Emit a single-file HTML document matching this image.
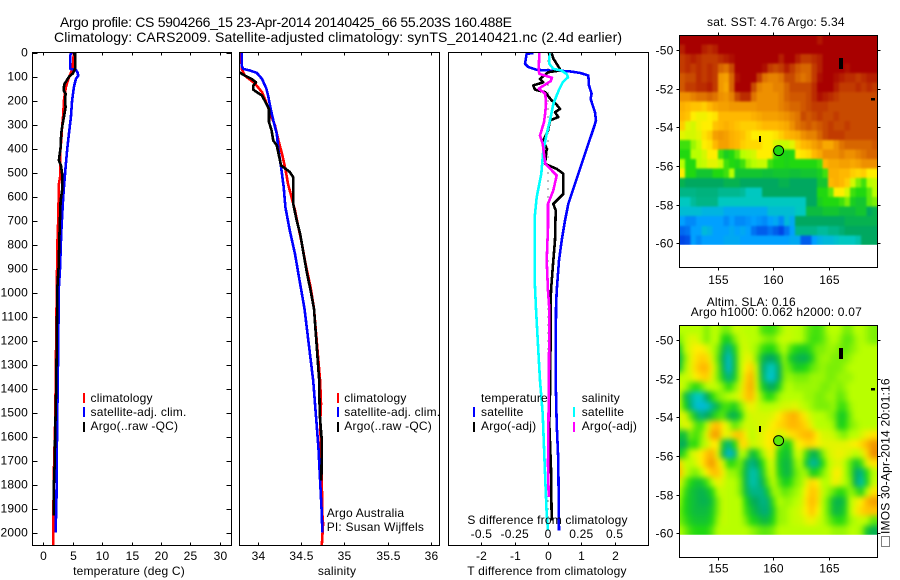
<!DOCTYPE html>
<html lang="en">
<head>
<meta charset="utf-8">
<title>Argo profile chart</title>
<style>
html,body{margin:0;padding:0;background:#fff;width:900px;height:580px;overflow:hidden}
svg{display:block}
text{font-family:"Liberation Sans",sans-serif;font-size:12px;fill:#000;letter-spacing:0.2px}
.ttl{font-size:14px;letter-spacing:0}
.mk{shape-rendering:crispEdges}
</style>
</head>
<body>
<svg id="chart" xmlns="http://www.w3.org/2000/svg" width="900" height="580" viewBox="0 0 900 580">
  <defs>
    <filter id="blurSst" x="-5%" y="-5%" width="110%" height="110%" color-interpolation-filters="sRGB"><feGaussianBlur stdDeviation="1"/></filter>
    <filter id="blurSla" x="-5%" y="-5%" width="110%" height="110%" color-interpolation-filters="sRGB"><feGaussianBlur stdDeviation="3"/></filter>
    <clipPath id="clipSst"><rect x="679.5" y="35.5" width="198" height="209.3"/></clipPath>
    <clipPath id="clipSla"><rect x="679.5" y="325.5" width="198" height="209.3"/></clipPath>
  </defs>
  <rect x="0" y="0" width="900" height="580" fill="#fff"/>
  <text class="ttl" x="60" y="27" textLength="452" lengthAdjust="spacing">Argo profile: CS 5904266_15 23-Apr-2014 20140425_66 55.203S 160.488E</text>
  <text class="ttl" x="54" y="42" textLength="568" lengthAdjust="spacing">Climatology: CARS2009. Satellite-adjusted climatology: synTS_20140421.nc (2.4d earlier)</text>

  <g id="p1marks"></g>
  <g id="p2marks"></g>
  <g id="p3marks"></g>
  <g clip-path="url(#clipSst)"><g id="m1cells" filter="url(#blurSst)"></g></g>
  <g clip-path="url(#clipSla)"><g id="m2cells" filter="url(#blurSla)"></g></g>
  <g id="m1over"></g>
  <g id="m2over"></g>
  <g id="axes"></g>

  <g>
    <rect class="mk" x="83" y="393" width="2" height="10" fill="#f00"/>
    <text x="90.5" y="402">climatology</text>
    <rect class="mk" x="83" y="407" width="2" height="10" fill="#00f"/>
    <text x="90.5" y="416">satellite-adj. clim.</text>
    <rect class="mk" x="83" y="422" width="2" height="10" fill="#000"/>
    <text x="90.5" y="430">Argo(..raw -QC)</text>
  </g>
  <g>
    <rect class="mk" x="337" y="393" width="2" height="10" fill="#f00"/>
    <text x="344.3" y="402">climatology</text>
    <rect class="mk" x="337" y="407" width="2" height="10" fill="#00f"/>
    <text x="344.3" y="416">satellite-adj. clim.</text>
    <rect class="mk" x="337" y="422" width="2" height="10" fill="#000"/>
    <text x="344.3" y="430">Argo(..raw -QC)</text>
    <text x="326.7" y="517">Argo Australia</text>
    <text x="326.7" y="531">PI: Susan Wijffels</text>
  </g>
  <g>
    <text x="481" y="402">temperature</text>
    <text x="581.7" y="402">salinity</text>
    <rect class="mk" x="473" y="407" width="2" height="10" fill="#00f"/>
    <text x="481" y="416">satellite</text>
    <rect class="mk" x="473" y="422" width="2" height="10" fill="#000"/>
    <text x="481" y="430">Argo(-adj)</text>
    <rect class="mk" x="573" y="407" width="2" height="10" fill="#0ff"/>
    <text x="581.7" y="416">satellite</text>
    <rect class="mk" x="573" y="422" width="2" height="10" fill="#f0f"/>
    <text x="581.7" y="430">Argo(-adj)</text>
  </g>

  <text x="129" y="575" text-anchor="middle">temperature (deg C)</text>
  <text x="337" y="575" text-anchor="middle">salinity</text>
  <text x="547.5" y="524" text-anchor="middle">S difference from climatology</text>
  <text x="547" y="575" text-anchor="middle">T difference from climatology</text>

  <text x="707" y="26">sat. SST: 4.76 Argo: 5.34</text>
  <text x="706.7" y="306">Altim. SLA: 0.16</text>
  <text x="690.7" y="316">Argo h1000: 0.062 h2000: 0.07</text>

  <rect x="881.5" y="536.5" width="8" height="10" fill="none" stroke="#000" stroke-dasharray="1 1" shape-rendering="crispEdges"/>
  <text transform="translate(889.5,534) rotate(-90)">IMOS 30-Apr-2014 20:01:16</text>
</svg>

<script>
// ---------- axis tick values ----------
const depthTicks = [0,100,200,300,400,500,600,700,800,900,1000,1100,1200,1300,1400,1500,1600,1700,1800,1900,2000];
const tempTicks = [0,5,10,15,20,25,30];
const salTicks = [34,34.5,35,35.5,36];
const salTickLabels = ['34','34.5','35','35.5','36'];
const tDiffTicks = [-2,-1,0,1,2];
const sDiffTicks = [-0.5,-0.25,0,0.25,0.5];
const sDiffTickLabels = ['-0.5','-0.25','0','0.25','0.5'];
const lonTicks = [155,160,165];
const latTicks = [-50,-52,-54,-56,-58,-60];

// ---------- temperature panel ----------
const tempClimDepth = [0,62,88,110,144,200,255,311,367,422,510,547,617,728,742,894,977,1400,1500,1600,1750,1950,2054];
const tempClimValue = [5.2,5.0,4.65,4.25,3.85,3.5,3.4,3.2,3.05,2.85,2.9,2.65,2.6,2.5,2.45,2.35,2.3,2.1,2.05,1.95,1.8,1.7,1.7];
const tempSatDepth = [0,11,68,73,82,96,110,144,200,269,339,408,478,547,617,686,755,894,977,1400,1550,1850,2000];
const tempSatValue = [4.8,4.6,4.55,5.55,5.8,5.95,5.55,5.2,4.9,4.7,4.35,4.05,3.8,3.55,3.35,3.2,3.05,2.85,2.65,2.45,2.35,2.25,2.1];
const tempArgoDepth = [0,68,88,100,116,133,158,172,200,228,262,311,339,394,450,470,505,575,617,755,894,977,1400,1600,1700,1800,1930];
const tempArgoValue = [5.4,5.4,5.0,4.4,4.0,3.55,3.45,3.8,3.7,3.8,3.55,3.2,3.05,2.95,2.65,3.0,3.2,3.2,2.95,2.75,2.6,2.4,2.2,2.0,1.95,1.8,1.8];

// ---------- salinity panel ----------
const salClimDepth = [0,68,96,130,165,200,249,304,367,422,485,547,603,658,728,797,894,978,1068,1367,1464,1547,1644,1783,1922,1964,2054];
const salClimValue = [33.81,33.815,33.85,33.97,34.05,34.09,34.14,34.2,34.24,34.28,34.32,34.35,34.39,34.43,34.47,34.51,34.56,34.61,34.65,34.72,34.73,34.72,34.73,34.74,34.745,34.755,34.74];
const salSatDepth = [0,54,68,75,85,110,151,179,235,283,339,408,478,561,644,742,839,922,1068,1367,1506,1644,1783,1922,2000];
const salSatValue = [33.815,33.815,33.83,33.91,33.99,34.05,34.1,34.12,34.15,34.18,34.22,34.24,34.27,34.3,34.32,34.37,34.43,34.47,34.54,34.64,34.67,34.7,34.72,34.74,34.745];
const salArgoDepth = [83,96,110,124,137,155,168,179,207,235,290,325,367,387,422,471,498,519,631,700,756,839,922,992,1068,1367,1506,1617,1783];
const salArgoValue = [33.79,33.85,33.93,33.98,33.95,33.95,34.0,34.05,34.09,34.13,34.13,34.16,34.18,34.22,34.24,34.27,34.37,34.41,34.41,34.45,34.49,34.53,34.57,34.61,34.65,34.71,34.715,34.74,34.735];

// ---------- difference panel ----------
const tDiffSatDepth = [3,5,47,61,72,75,78,85,96,137,172,193,249,283,311,381,464,547,631,700,783,867,992,1068,1367,1547,1700,1992];
const tDiffSatValue = [-0.44,-0.64,-0.69,-0.59,-0.34,0.01,0.61,0.96,1.21,1.23,1.31,1.28,1.41,1.44,1.38,1.21,1.01,0.81,0.61,0.51,0.41,0.33,0.26,0.24,0.23,0.26,0.31,0.33];
const tDiffArgoDepth = [3,25,69,75,82,110,124,137,155,165,200,214,235,249,269,283,325,367,401,464,485,505,589,631,658,783,867,992,1068,1367,1547,1735,1950];
const tDiffArgoValue = [0.11,0.16,0.36,0.36,0.01,-0.24,-0.14,-0.44,-0.39,-0.09,0.11,0.24,0.36,0.21,0.31,0.06,0,-0.14,-0.04,-0.09,0.26,0.46,0.46,0.16,0.23,0.21,0.16,0.09,0.08,0.07,0.04,0.09,0.11];
const sDiffSatDepth = [3,47,68,75,89,103,124,158,214,269,339,408,505,603,686,825,950,1068,1367,1506,1644,1783,1922,1992];
const sDiffSatValue = [0.01,0.01,0.04,0.1,0.14,0.15,0.11,0.08,0.04,0.02,-0.01,-0.035,-0.05,-0.085,-0.1,-0.1,-0.1,-0.09,-0.06,-0.04,-0.03,-0.02,-0.01,0];
const sDiffArgoDepth = [3,75,89,105,119,151,172,214,249,290,346,381,464,512,575,631,728,867,992,1068,1367,1714,1853];
const sDiffArgoValue = [-0.065,-0.07,-0.065,0.03,0.02,-0.07,-0.02,-0.015,-0.02,-0.03,-0.06,-0.04,-0.02,0.065,0.04,0,0,-0.01,0,0.01,0.007,0,0.005];
const zeroLineDepth = [0,1992];

// ---------- map values (colour-scale level per cell, north to south) ----------
const sstRows = [
[10,10,10,10,10,10,10,10,10,10,10,10,10,10,10,10,10,10,10,10,10,10,10,10,10,9.7,10,10,10,10,10,10,10,10,10,10],
[9.6,10,10,10,9.6,9.4,9.6,10,10,10,10,10,10,10,10,10,10,10,10,10,10,10,10,10,10,10,10,10,10,10,10,10,10,10,10,10],
[9.2,9.4,9.6,9.4,9.2,9.2,9.2,9.4,9.6,9.8,10,10,10,10,10,10,10,10,9.6,10,10,9.6,9.2,9.2,9.4,9.6,10,10,10,10,10,10,10,10,10,10],
[9.2,9.4,9.2,9.4,9.2,9.4,9.2,8.6,8.4,9,10,10,10,10,10,9.8,9.2,9,9.2,9.6,9.2,8.8,8.6,8.6,9.2,9.6,10,10,10,10,9.8,10,10,10,10,10],
[8.8,9,9,9.4,9.2,9.4,9.2,7.8,7.6,8.6,9.8,10,10,10,9.2,8.4,8.2,8.2,8.4,9,9,8.6,8.4,8.6,9.2,9.8,10,10,9.8,9.6,9.4,9.4,9.2,9.4,9.6,9.6],
[8.8,9.2,9.2,9.4,9.4,9.6,9.2,7.8,7.4,8.6,10,10,10,9,8.2,8,8,8.2,8.2,8.6,9,9,9,9,9.4,10,10,10,9.6,9.2,9.2,9.2,9.4,9.2,9.4,9.2],
[8,8,8.2,8.4,8.4,8.6,8.4,8,7.8,8.2,9,9.4,9.4,8.4,8,8,8,8,8.2,8.6,8.8,8.8,8.8,9,9.4,9.8,9.6,9.4,9.2,9,9,9,9,9,9,9],
[7.2,7,6.8,6.8,6.6,7,7.4,7.6,7.6,7.8,7.8,7.8,7.8,7.8,8,8,8,8,8.2,8.4,8.6,8.6,8.8,9,9.2,9.2,9.2,9,9,9,9,9,9,9,9,9],
[7,6.8,6,5.8,5.8,6,6.2,7,7,7,7,7,7,7.2,7.4,7.6,7.6,7.6,7.8,8,8.2,8.4,9,8.8,9,9.2,9,9,9.2,9,9,9,9,9,9,9],
[6.6,5.6,5.4,5.8,6,6,6.8,7,7.2,7,6.8,6.6,6.6,6.6,6.8,7,7,7,7.2,7.4,8,8.4,8.6,8.8,8.6,8.8,9,9.2,9,9,9.2,9,9,9,9,9],
[5.6,5.4,5.4,5.6,6.2,6.6,7.6,7.8,7.6,7.2,7,6.8,6.4,6,6,6,6,6.2,6.6,7,7.2,7.4,8,8.2,8.2,8.6,9,9.2,9.2,9.2,9,9,9,9,9,9],
[4.2,4.2,4.8,5.2,6,6.2,7,7.6,7.6,7.2,7,6.6,6.4,6.4,6.4,6,6,5.4,5.2,5.2,5.6,6.6,7,7.2,7.6,8,7.4,7.4,8,8.4,8.6,8.6,8.6,8.6,8.6,8.8],
[4,4,5,5,5.4,6,6,4.2,3.8,4,4.4,5,5.2,5.4,6,6,6,4.2,4,3.9,4,6,6.2,6.4,7,7.4,8,8,8,8.2,8,8,8.2,8.4,8.6,8.6],
[5,4,4,5,5.2,5.6,5.6,5.2,4.2,4,3.9,4.2,4.8,5,5.2,5.2,4.2,4,4,3.9,4,4,4,4,4,4.2,7,7.4,7.4,7.6,7.6,7.4,7.6,8,8,8],
[6,4,4,3.6,3.6,3.6,4,4,4.2,5,3.6,3.6,3.6,3.6,3.6,3.5,3.5,3.6,3.6,3.6,3.5,3.5,3.6,3.6,3.6,3.8,4.2,7.2,7.2,7,7,6.6,6.4,6.6,6,6],
[3.2,3,3,3,3,3,3,3,3.2,3.2,3.2,3,3,3,3,3,3,3,3.2,3.2,3,3,3,3,3,3.6,3.6,7,7.2,7,6.6,5.4,4.6,4.2,5,5.2],
[2.6,2.6,2.6,2.7,2.7,2.7,2.7,2.5,2.5,2.5,2.5,2.4,2,2,2,3,3,3,3,3,3,3,3,3,3,4,4,4.4,6,6,5.4,4.2,4,4,4.4,5],
[2,2,2.4,2.6,2.6,2.6,2.6,2,2,2,2,2,2,2,2,2,2,2,2,2,2,2,2,3,3,3.8,4,4,4,4.2,4.6,3.8,3.6,3.6,4.4,4.6],
[1.7,1.7,1.7,1.7,1.5,1.5,1.5,1.5,1.2,1.2,1.2,1.2,1.2,1.2,1.2,1.2,1.7,1.7,1.7,1.7,1.7,2,2,3.4,3.4,3.4,3.6,3.6,3.6,3.4,3.4,3.4,3.6,3.6,3,3.2],
[1,0.8,0.8,1,1,1,1,1,0.8,1,0.8,0.8,0.9,1,0.9,0.8,1,1.2,0.8,1.6,1.2,3,3,3,3,3,3,3,3,3,3.2,3.2,3.2,3.2,3.2,3.2],
[0.5,0.6,1,1,1.6,1.4,1,1,1,1.2,1,1.2,1,0.6,0.4,0.4,0.6,0.4,0.2,0.6,1,2.6,2.6,2.6,2.6,2.4,2.4,2.6,2.6,2.8,3,3,3,3,3,3],
[0.2,0.3,1,0.8,1,1,1,1,1.2,1.2,1.2,1,1,1,1,1,1,1,1,1,1.2,1.2,0.4,0.4,1,1.4,1.6,1.6,1.8,2,2,2,2.2,3,3,3]
];
const slaRows = [
[5,5,5,5,5,4.6,5,5,4.6,4.6,5.2,5.2,5,5,5,4.3,4.2,4.2,4.6,5,5.2,5,5,4.6,4.3,4.2,4.4,5,5,5,4.6,4.6,5,5,4.8,4.6],
[4.6,5,5.5,5.5,5,4.6,5,5,4,3.8,4.6,5.2,5.2,5,5,4.8,4.6,4.6,5,5.2,5.2,5,5,4.6,4.2,4.2,4.4,4.8,5,4.8,4.4,4.4,4.8,5,4.8,4.6],
[3.6,5,5.6,6,6,5.6,5,4.6,3.4,2.5,3.8,5,5.4,5,4.8,4.2,4,4,4.6,5,4.4,4,3.8,3.8,4.2,4.6,4.6,4.8,4.8,4.6,4.4,4.6,4.8,5,5,5],
[3.2,4.6,5.6,6.2,6.6,6.4,5.4,4.4,3,1.8,3.4,5,5.6,5.6,4.6,3.4,3,3,3.6,4.8,3.8,3.4,3.2,3.2,3.8,4.6,4.8,4.8,4.6,4.6,4.6,4.8,5,5,5,5],
[3.4,4.8,5.6,6.4,7,7,5.8,4.6,3.2,1.6,3.4,5,6,6.6,5,3,2.2,2,3,4.6,4.4,3.8,3.8,4,4.4,4.6,4.8,4.6,4.6,4.6,4.8,5,5,5,5,5],
[5,5.2,5.4,6,6.4,6.6,5.6,4.6,3.6,2.6,3.6,5,6.4,7.2,5.2,3.2,2,1.8,3,4.6,4.8,4.6,4.6,4.6,4.8,4.8,4.8,4.6,4.6,4.8,4.8,4.8,5,5,5,5],
[5.4,5,4.4,4,4.4,5,5.2,5,4.6,4,4.6,5.4,6.6,7.4,5.4,3.8,3.2,3,3.8,4.8,5,4.8,4.8,4.8,4.8,4.8,4.6,4.6,4.8,4.6,4.8,5,5,5,5,5],
[5.2,3.6,2.6,2,2,3,4,4.6,4.8,5,5.2,5.6,6.6,7,5.6,4.6,4,4.2,4.8,5,5,5,5,4.8,4.8,4.6,4.6,4.8,4.8,4.4,4.6,5,5,5,5,5],
[5.2,4,2.8,1.8,1.6,1.8,2.6,3.4,4.2,4.2,3.8,4.6,5.4,5.8,5.4,5,5,5,5.2,5.4,5.4,5.6,5.2,5,4.8,4.6,4.6,4.6,4.8,4.2,4.2,4.8,5,5,5,5],
[5.4,5.6,4.4,3.4,2.6,3,3.6,4.2,4.4,3.4,3.2,3.8,5,5.4,5.4,5.4,5.4,5.6,6,6.6,7,7.2,6.4,5.8,5.2,5,5,4.8,4.6,3.8,3.8,4.6,5,5,5,5],
[5,5.6,5.4,4.4,4.2,5,6.6,7,6,5.2,4.4,4.8,5.4,5.2,5.4,5.4,5.6,6,6.4,6.6,7,7,6.8,6.4,5.6,5,5,5,4.8,3.8,4,4.6,4.8,5,5,5],
[3.6,3.4,4.6,4.2,4.6,5.6,7.4,7.6,5.8,5.6,6.6,6.8,5.8,5,5.4,5.6,6,6.2,5.4,5.6,6.2,6.4,6.8,7,7,6,5.4,5.4,5.2,4.8,4.6,5,5,5.4,5.8,6.2],
[3.2,3,4.2,4,4.8,5.2,6,6,3.6,2.6,4,6.2,6.4,5.2,5.4,5.6,6,6.2,4.6,3.8,4,5.6,6,6.4,6.4,6,5.6,5.6,5.6,5.6,5.6,5.8,6,6.4,7,7.8],
[3.6,4.2,5.2,5.6,6,6.8,7.2,5.6,3.2,1.6,2.6,5,4.8,3.4,3.8,4.8,5.6,5.8,4,3.6,3.6,5,5.4,4.2,3.2,3.4,4.6,5.4,5.6,5.8,5.6,5.4,5,5.4,6.4,8],
[6.6,5.2,5,5.4,6,7,7.8,6.4,5.4,4,4.2,4.6,3.4,2.6,3,4,5,5.4,3.8,3.4,3.4,4.6,5,3.6,2.4,2.6,4,5,5.4,5.6,5,4.4,3.6,4.2,5.6,6.2],
[7,5.4,4.8,4.6,5,6,6.8,6.8,5.8,4.8,4.8,4.4,3.2,2.2,2.4,3.6,4.8,5.4,4,3.4,3.4,4.4,4.8,4.8,3.8,4,4.6,5,5.8,6,5,4.4,3,2.6,4,5],
[5.6,4.6,4,3.6,3.6,4.2,5,5.8,5.4,5,5,4.6,3.2,2.2,2.4,3.2,4.4,5.2,4.4,3.8,4,4.6,4.8,5.6,6.4,6,5,5,5.8,5.6,5,4.6,3,2.2,3.8,5.2],
[5,4.2,3.6,3.4,3.2,3.4,4,5,5.2,5,5,4.6,3.4,2.6,2.6,2.6,3.6,4.8,4.8,4.4,4.6,4.8,5,6,6.8,6.4,5.2,4.8,4.4,4,4.2,4.8,4.4,3.8,5,6.2],
[4.8,4,3.6,3.4,3.2,3.2,3.6,4.6,5.2,5,5,5,4,3.2,3,2.6,2.8,4.2,5,4.8,4.8,5,5.2,6.2,7,6.4,5,4.4,3.4,3.2,3.6,5,5.6,6,7,7.6],
[4.6,4,3.6,3.4,3.4,3.4,3.8,4.6,5.2,5,5,5,4.2,3.6,3.2,2.8,2.8,3.8,4.8,4.8,5,5.2,5.4,6,6.8,6,5,4.4,3.4,3.4,3.8,5,5.8,6.4,6.8,6.8],
[4.6,4.2,3.8,3.6,3.6,3.6,4,4.8,5.2,5,5,5,4.6,4,3.8,3.4,3.4,4,4.8,4.8,5,5.2,5.2,5.6,5.8,5.4,5,4.6,4.2,4,4.2,4.8,5,5.2,5,4.4],
[5,4.6,4.2,4,4,4,4.4,5,5,5,5,5,5,4.8,4.6,4.4,4.4,4.6,5,5,5,5,5,5,5,5,5,5,4.8,4.8,4.8,5,5,4.8,3.6,3.2]
];
const islandLon = [166.1,158.8,169.0];
const islandLat = [-50.7,-54.6,-52.55];
const islandSpanLon = [0.35,0.2,0.35];
const islandSpanLat = [0.55,0.3,0.15];
const profileLon = [160.488];
const profileLat = [-55.203];
const sstAtProfile = [4.0];
const slaAtProfile = [4.4];

// ---------- scales ----------
const NS = 'http://www.w3.org/2000/svg';
const yDepth = d => 52.5 + 0.24 * d;
const xTemp = t => 43.3 + 5.88 * t;
const xSal = s => 257.7 + 86.67 * (s - 34);
const xTDiff = t => 548 + 33.3 * t;
const xSDiff = s => 548 + 133.2 * s;
const xLon = l => 717.7 + 11.1 * (l - 155);
const yLat1 = l => 50 + 19.33 * (-50 - l);
const yLat2 = l => 340 + 19.33 * (-50 - l);

const levelStops = ['#0030e0','#00a0ff','#00c8c0','#00a860','#20d810','#b8ff00','#ffee00','#ffb800','#ee9000','#c84a00','#a80000'];
function hexRgb(h){return [parseInt(h.slice(1,3),16),parseInt(h.slice(3,5),16),parseInt(h.slice(5,7),16)];}
function levelColor(v){
  const c = Math.max(0, Math.min(10, v));
  const i = Math.min(9, Math.floor(c));
  const f = c - i;
  const a = hexRgb(levelStops[i]);
  const b = hexRgb(levelStops[i + 1]);
  return 'rgb(' + a.map((x, k) => Math.round(x + (b[k] - x) * f)).join(',') + ')';
}
function mk(parent, tag, attrs, txt){
  const el = document.createElementNS(NS, tag);
  for (const k in attrs) el.setAttribute(k, attrs[k]);
  if (txt !== undefined) el.textContent = txt;
  parent.appendChild(el);
  return el;
}

// ---------- profile lines ----------
function drawLine(parent, name, xs, ys, xFn, color, extra){
  const pts = xs.map((v, i) => xFn(v).toFixed(1) + ',' + yDepth(ys[i]).toFixed(1)).join(' ');
  const el = mk(parent, 'polyline', Object.assign({points: pts, fill: 'none', stroke: color, 'stroke-width': 2.6, 'shape-rendering': 'crispEdges', 'stroke-linejoin': 'round'}, extra || {}));
  
  
}
const p1 = document.getElementById('p1marks');
const p2 = document.getElementById('p2marks');
const p3 = document.getElementById('p3marks');
drawLine(p1, 'temperature-climatology-line', tempClimValue, tempClimDepth, xTemp, '#f00');
drawLine(p1, 'temperature-satellite-line', tempSatValue, tempSatDepth, xTemp, '#00f');
drawLine(p1, 'temperature-argo-line', tempArgoValue, tempArgoDepth, xTemp, '#000');
drawLine(p2, 'salinity-climatology-line', salClimValue, salClimDepth, xSal, '#f00');
drawLine(p2, 'salinity-satellite-line', salSatValue, salSatDepth, xSal, '#00f');
drawLine(p2, 'salinity-argo-line', salArgoValue, salArgoDepth, xSal, '#000');
drawLine(p3, 'zero-reference-line', zeroLineDepth.map(() => 0), zeroLineDepth, xTDiff, '#000', {'stroke-width': 1, 'stroke-dasharray': '1 7'});
drawLine(p3, 't-difference-satellite-line', tDiffSatValue, tDiffSatDepth, xTDiff, '#00f');
drawLine(p3, 't-difference-argo-line', tDiffArgoValue, tDiffArgoDepth, xTDiff, '#000');
drawLine(p3, 's-difference-satellite-line', sDiffSatValue, sDiffSatDepth, xSDiff, '#0ff');
drawLine(p3, 's-difference-argo-line', sDiffArgoValue, sDiffArgoDepth, xSDiff, '#f0f');

// ---------- maps ----------
const lonWest = 151.55, lonEast = 169.4, latNorth = -49.22, latSouth = -60.08;
function drawMap(parent, rows, yLat, cellName, dx){
  const nr = rows.length;
  const bleed = 12;
  rows.forEach((row, r) => {
    const y0 = yLat(latNorth + (latSouth - latNorth) * r / nr) - (r === 0 ? bleed : 0);
    const y1 = yLat(latNorth + (latSouth - latNorth) * (r + 1) / nr) + (r === nr - 1 ? bleed : 0);
    row.forEach((v, c) => {
      const x0 = xLon(lonWest + (lonEast - lonWest) * c / row.length) + dx - (c === 0 ? bleed : 0);
      const x1 = xLon(lonWest + (lonEast - lonWest) * (c + 1) / row.length) + dx + (c === row.length - 1 ? bleed : 0);
      const cell = mk(parent, 'rect', {x: x0.toFixed(2), y: y0.toFixed(2), width: (x1 - x0 + 0.6).toFixed(2), height: (y1 - y0 + 0.6).toFixed(2), fill: levelColor(v), 'shape-rendering': 'crispEdges'});
      
      
    });
  });
}
function drawOverlay(parent, yLat, value){
  islandLon.forEach((lon, i) => {
    const w = islandSpanLon[i], h = islandSpanLat[i];
    const isl = mk(parent, 'rect', {x: xLon(lon - w / 2).toFixed(1), y: yLat(islandLat[i] + h / 2).toFixed(1), width: (11.1 * w).toFixed(1), height: (19.33 * h).toFixed(1), fill: '#000', 'shape-rendering': 'crispEdges'});
    
    
  });
  const c = mk(parent, 'circle', {cx: xLon(profileLon[0]).toFixed(1), cy: yLat(profileLat[0]).toFixed(1), r: 5, fill: levelColor(value), stroke: '#000', 'stroke-width': 1});
  
  
}
drawMap(document.getElementById('m1cells'), sstRows, yLat1, 'sst-cell', 0);
drawMap(document.getElementById('m2cells'), slaRows, yLat2, 'sla-cell', -2.7);
drawOverlay(document.getElementById('m1over'), yLat1, sstAtProfile[0]);
drawOverlay(document.getElementById('m2over'), yLat2, slaAtProfile[0]);

// ---------- axes ----------
const ax = document.getElementById('axes');
function frame(name, x, y, w, h){
  const el = mk(ax, 'rect', {x: x, y: y, width: w, height: h, fill: 'none', stroke: '#000', 'stroke-width': 1, 'shape-rendering': 'crispEdges'});
  
  
}
function tick(x1, y1, x2, y2){
  const el = mk(ax, 'line', {x1: x1, y1: y1, x2: x2, y2: y2, stroke: '#000', 'stroke-width': 1, 'shape-rendering': 'crispEdges'});
  
  
}
function tickText(x, y, anchor, s){
  const el = mk(ax, 'text', {x: x, y: y, 'text-anchor': anchor}, s);
  
  
}
frame('temperature-panel-frame', 32.5, 52.5, 199, 493);
frame('salinity-panel-frame', 239.5, 52.5, 200, 493);
frame('difference-panel-frame', 448.5, 52.5, 200, 493);
frame('sst-map-frame', 679.5, 35.5, 198, 232);
frame('sla-map-frame', 679.5, 325.5, 198, 232);

depthTicks.forEach(d => {
  const y = Math.round(yDepth(d)) + 0.5;
  tick(32.5, y, 37.5, y);
  tick(226.5, y, 231.5, y);
  tickText(28, y + 3, 'end', String(d));
});
tempTicks.forEach(t => {
  const x = Math.round(xTemp(t)) + 0.5;
  tick(x, 52.5, x, 55.5);
  tick(x, 545.5, x, 542.5);
  tickText(x, 560, 'middle', String(t));
});
salTicks.forEach((s, i) => {
  const x = Math.round(xSal(s)) + 0.5;
  tick(x, 52.5, x, 55.5);
  tick(x, 545.5, x, 542.5);
  tickText(x, 560, 'middle', salTickLabels[i]);
});
tDiffTicks.forEach(t => {
  const x = Math.round(xTDiff(t)) + 0.5;
  tick(x, 52.5, x, 55.5);
  tick(x, 545.5, x, 542.5);
  tickText(x, 560, 'middle', String(t));
});
sDiffTicks.forEach((s, i) => {
  tickText(xSDiff(s), 538, 'middle', sDiffTickLabels[i]);
});
function mapTicks(yLat, top, bottom, labelY){
  lonTicks.forEach(l => {
    const x = Math.round(xLon(l)) + 0.5;
    tick(x, top, x, top - 3);
    tick(x, bottom, x, bottom + 3);
    tickText(x, labelY, 'middle', String(l));
  });
  latTicks.forEach(l => {
    const y = Math.round(yLat(l)) + 0.5;
    tick(679.5, y, 676.5, y);
    tick(877.5, y, 880.5, y);
    tickText(673.5, y + 4, 'end', String(l));
  });
}
mapTicks(yLat1, 35.5, 267.5, 284);
mapTicks(yLat2, 325.5, 557.5, 572.5);
</script>
</body>
</html>
